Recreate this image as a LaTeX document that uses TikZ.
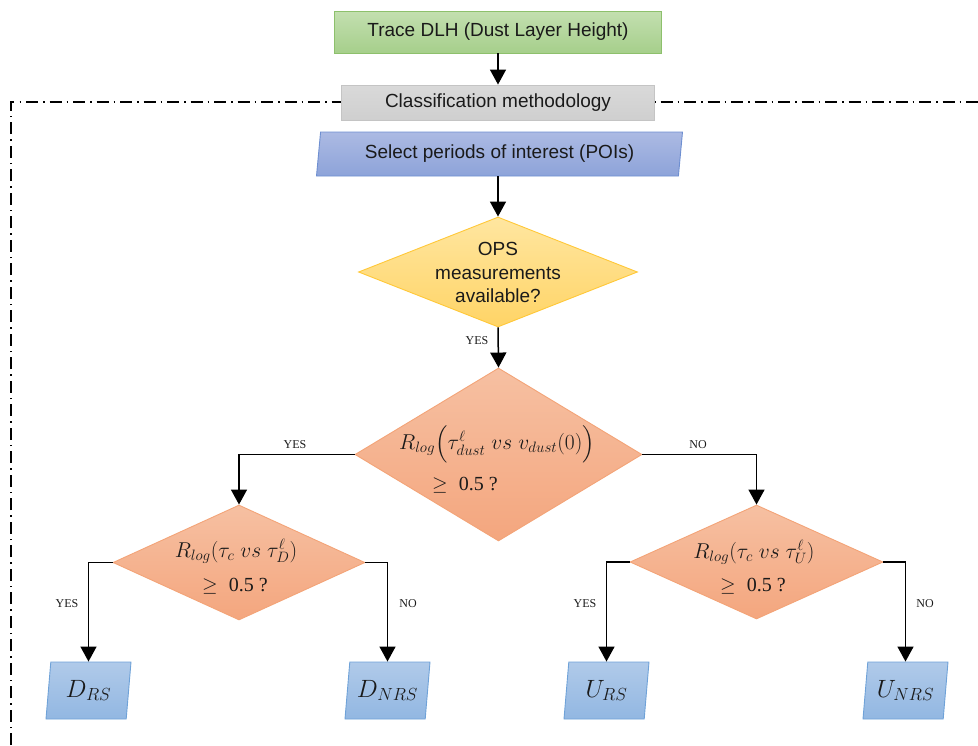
\RequirePackage{fix-cm}
\documentclass[tikz,border=0pt]{standalone}
\usepackage{amsmath}
\usepackage[no-math]{fontspec}
\setmainfont{Liberation Sans}
\newfontfamily\tnr{Liberation Serif}
\usetikzlibrary{shapes.geometric,arrows.meta}
\definecolor{gtop}{HTML}{C3DFB0}
\definecolor{gbot}{HTML}{A6CF8B}
\definecolor{gbord}{HTML}{8DC06C}
\definecolor{ytop}{HTML}{D9D9D9}
\definecolor{ybot}{HTML}{CFCFCF}
\definecolor{ybord}{HTML}{C4C4C4}
\definecolor{ptop}{HTML}{ACBAE3}
\definecolor{pbot}{HTML}{8DA3D9}
\definecolor{pbord}{HTML}{6E8FD1}
\definecolor{otop}{HTML}{FFE6A0}
\definecolor{obot}{HTML}{FFD466}
\definecolor{obord}{HTML}{FFC838}
\definecolor{rtop}{HTML}{F6C0A2}
\definecolor{rbot}{HTML}{F4A67E}
\definecolor{rbord}{HTML}{F3A478}
\definecolor{btop}{HTML}{B0CAE9}
\definecolor{bbot}{HTML}{92B7E2}
\definecolor{bbord}{HTML}{6FA2D8}
\definecolor{ink}{HTML}{1A1A1A}
\begin{document}
\begin{tikzpicture}[x=1pt,y=-1pt,
  boxfont/.style={font=\fontsize{19}{23.5}\selectfont, text=ink},
  tracebox/.style={rectangle, draw=gbord, line width=0.9pt, top color=gtop, bottom color=gbot, minimum width=327pt, minimum height=42pt, inner sep=0pt, boxfont},
  classbox/.style={rectangle, draw=ybord, line width=0.9pt, top color=ytop, bottom color=ybot, minimum width=313pt, minimum height=35pt, inner sep=0pt, boxfont},
  poibox/.style={trapezium, trapezium left angle=77, trapezium right angle=103, trapezium stretches body=true, draw=pbord, line width=0.9pt, top color=ptop, bottom color=pbot, minimum width=366pt, minimum height=44pt, inner sep=0pt, boxfont},
  opsdiam/.style={diamond, draw=obord, line width=0.9pt, top color=otop, bottom color=obot, inner sep=0pt},
  rdiam/.style={diamond, draw=rbord, line width=0.9pt, top color=rtop, bottom color=rbot, inner sep=0pt},
  outbox/.style={trapezium, trapezium left angle=77, trapezium right angle=103, trapezium stretches body=true, draw=bbord, line width=0.9pt, top color=btop, bottom color=bbot, minimum width=85pt, minimum height=57pt, inner sep=0pt, font=\fontsize{25}{29}\selectfont, text=ink},
  mtxt/.style={inner sep=0pt, font=\fontsize{21.5}{25}\selectfont, text=ink},
  geq/.style={inner sep=0pt, font=\fontsize{20}{24}\selectfont, text=ink},
  lbl/.style={inner sep=0pt, font=\tnr\fontsize{12}{14}\selectfont, text=ink},
  arr/.style={draw=black, line width=1.5pt, -{Triangle[width=16pt,length=15pt]}},
  frame/.style={draw=black, line width=1.2pt, dash pattern=on 12pt off 5pt on 1.5pt off 5pt}
]
\useasboundingbox (0,0) rectangle (978,745);
% dash-dot frame
\coordinate (fA) at (11,745);
\coordinate (fB) at (11,102);
\coordinate (fC) at (978,102);
\draw[frame] (fA) -- (fB) -- (fC);

\node[tracebox] (trace) at (498,32) {Trace DLH (Dust Layer Height)};
\node[classbox] (class) at (498,102.5) {Classification methodology};
\node[poibox] (poi) at (499.5,154) {Select periods of interest (POIs)};

\node[opsdiam, minimum width=279pt, minimum height=110pt] (ops) at (498,272) {};
\node[boxfont, align=center, inner sep=0pt] (opst) at (498,272.5) {OPS\\measurements\\available?};

\node[rdiam, minimum width=287pt, minimum height=173pt] (big) at (498.5,454.5) {};
\node[mtxt] (bigA) at (497,444) {$R_{log}\Bigl(\tau^{\ell}_{dust}\;vs\;v_{dust}(0)\Bigr)$};
\node[geq] (bigB) at (465,485) {$\geq$\ \ {\tnr 0.5 ?}};

\node[rdiam, minimum width=252pt, minimum height=115pt] (ld) at (239,562.5) {};
\node[mtxt] (ldA) at (236,551) {$R_{log}(\tau_c\;vs\;\tau^{\ell}_{D})$};
\node[geq] (ldB) at (235,586.5) {$\geq$\ \ {\tnr 0.5 ?}};

\node[rdiam, minimum width=253pt, minimum height=114pt] (rd) at (756.5,562) {};
\node[mtxt] (rdA) at (754,552) {$R_{log}(\tau_c\;vs\;\tau^{\ell}_{U})$};
\node[geq] (rdB) at (753,586) {$\geq$\ \ {\tnr 0.5 ?}};

\node[outbox] (drs) at (88.5,690.5) {$D_{RS}$};
\node[outbox] (dnrs) at (387.5,690.5) {$D_{NRS}$};
\node[outbox] (urs) at (606.5,690.5) {$U_{RS}$};
\node[outbox] (unrs) at (905.5,690.5) {$U_{NRS}$};

% connectors
\draw[arr] (trace.south) -- (class.north);
\draw[arr] (poi.south -| ops.north) -- (ops.north);
\draw[arr] (ops.south) -- (big.north);
\draw[arr] (big.west) -| (ld.north);
\draw[arr] (big.east) -| (rd.north);
\draw[arr] (ld.west) -| (drs.north);
\draw[arr] (ld.east) -| (dnrs.north);
\draw[arr] (rd.west) -| (urs.north);
\draw[arr] (rd.east) -| (unrs.north);

% labels
\node[lbl] (y0) at (477,341) {YES};
\node[lbl] (y1) at (295,445) {YES};
\node[lbl] (n1) at (698,445) {NO};
\node[lbl] (y2) at (67,604) {YES};
\node[lbl] (n2) at (408,604) {NO};
\node[lbl] (y3) at (585,604) {YES};
\node[lbl] (n3) at (925,604) {NO};
\end{tikzpicture}
\end{document}
